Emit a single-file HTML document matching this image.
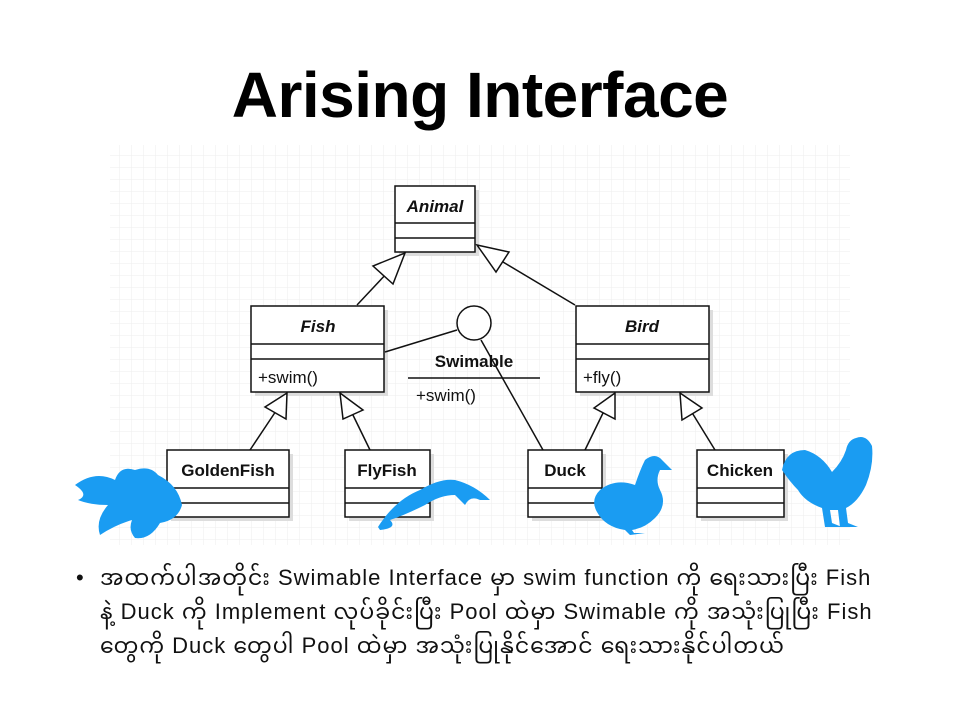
<!DOCTYPE html>
<html><head><meta charset="utf-8"><style>
body{margin:0;width:960px;height:720px;background:#fff;overflow:hidden;font-family:"Liberation Sans",sans-serif;position:relative}
.t{position:absolute;top:58px;left:0;width:960px;text-align:center;font-size:64px;font-weight:bold;color:#000;letter-spacing:-0.5px}
.p{position:absolute;left:76px;top:561px;width:880px;font-size:22px;letter-spacing:1px;line-height:34px;color:#111;white-space:nowrap;font-family:"Liberation Sans","Noto Sans Myanmar","Padauk",sans-serif}
.p b{position:absolute;left:0;font-weight:normal}
</style></head><body>
<div class="t">Arising Interface</div>
<svg width="960" height="720" style="position:absolute;left:0;top:0">
<defs><pattern id="g" width="12" height="12" patternUnits="userSpaceOnUse"><path d="M12 0V12H0" fill="none" stroke="#eeeeee" stroke-width="1"/></pattern></defs>
<rect x="110" y="145" width="740" height="400" fill="url(#g)"/>
<g fill="#ddd">
<rect x="399" y="190" width="80" height="66"/><rect x="255" y="310" width="133" height="86"/><rect x="580" y="310" width="133" height="86"/>
<rect x="171" y="454" width="122" height="67"/><rect x="349" y="454" width="85" height="67"/><rect x="532" y="454" width="74" height="67"/><rect x="701" y="454" width="87" height="67"/>
</g>
<g fill="#fff" stroke="#111" stroke-width="1.5">
<rect x="395" y="186" width="80" height="66"/><line x1="395" y1="223" x2="475" y2="223"/><line x1="395" y1="238" x2="475" y2="238"/>
<rect x="251" y="306" width="133" height="86"/><line x1="251" y1="344" x2="384" y2="344"/><line x1="251" y1="359" x2="384" y2="359"/>
<rect x="576" y="306" width="133" height="86"/><line x1="576" y1="344" x2="709" y2="344"/><line x1="576" y1="359" x2="709" y2="359"/>
<rect x="167" y="450" width="122" height="67"/><line x1="167" y1="488" x2="289" y2="488"/><line x1="167" y1="503" x2="289" y2="503"/>
<rect x="345" y="450" width="85" height="67"/><line x1="345" y1="488" x2="430" y2="488"/><line x1="345" y1="503" x2="430" y2="503"/>
<rect x="528" y="450" width="74" height="67"/><line x1="528" y1="488" x2="602" y2="488"/><line x1="528" y1="503" x2="602" y2="503"/>
<rect x="697" y="450" width="87" height="67"/><line x1="697" y1="488" x2="784" y2="488"/><line x1="697" y1="503" x2="784" y2="503"/>
</g>
<g stroke="#111" stroke-width="1.5" fill="#fff">
<line x1="357" y1="305" x2="388" y2="272"/><polygon points="405,253 393,284 373,266"/>
<line x1="575" y1="305" x2="503" y2="262"/><polygon points="477,245 509,252 496,272"/>
<line x1="250" y1="450" x2="276" y2="411"/><polygon points="287,393 286,419 265,407"/>
<line x1="370" y1="450" x2="351" y2="411"/><polygon points="340,393 363,410 343,419"/>
<line x1="585" y1="450" x2="604" y2="411"/><polygon points="615,393 615,419 594,408"/>
<line x1="715" y1="450" x2="691" y2="411"/><polygon points="680,393 702,408 682,420"/>
<line x1="385" y1="352" x2="457" y2="330"/>
<line x1="481" y1="340" x2="543" y2="450"/>
<circle cx="474" cy="323" r="17"/>
<line x1="408" y1="378" x2="540" y2="378"/>
</g>
<g font-family="Liberation Sans" fill="#111">
<text x="435" y="212" font-size="17" font-weight="bold" font-style="italic" text-anchor="middle">Animal</text>
<text x="318" y="332" font-size="17" font-weight="bold" font-style="italic" text-anchor="middle">Fish</text>
<text x="642" y="332" font-size="17" font-weight="bold" font-style="italic" text-anchor="middle">Bird</text>
<text x="258" y="383" font-size="17">+swim()</text>
<text x="583" y="383" font-size="17">+fly()</text>
<text x="474" y="367" font-size="17" font-weight="bold" text-anchor="middle">Swimable</text>
<text x="416" y="401" font-size="17">+swim()</text>
<text x="228" y="476" font-size="17" font-weight="bold" text-anchor="middle">GoldenFish</text>
<text x="387" y="476" font-size="17" font-weight="bold" text-anchor="middle">FlyFish</text>
<text x="565" y="476" font-size="17" font-weight="bold" text-anchor="middle">Duck</text>
<text x="740" y="476" font-size="17" font-weight="bold" text-anchor="middle">Chicken</text>
</g>
<g fill="#1a9cf2">
<path d="M75,485 Q95,470 115,480 Q120,465 135,470 Q150,465 158,475 Q178,485 182,505 Q178,520 160,523 Q150,540 135,538 Q128,530 132,520 Q115,525 100,535 Q95,520 108,505 Q90,505 78,500 Q90,495 75,485Z"/>
<path d="M378,527 Q395,500 420,490 Q440,478 455,480 Q475,485 490,500 L480,500 Q470,495 465,505 L455,495 Q440,495 425,505 Q405,515 390,520 Q398,528 380,530Z"/>
<path d="M600,490 Q615,478 635,485 Q640,470 645,460 Q655,452 662,460 L672,470 L660,470 Q655,480 660,490 Q668,505 655,518 Q645,528 632,530 L634,533 L645,533 L630,535 L625,530 Q605,527 597,512 Q590,500 600,490Z"/>
<path d="M782,470 Q786,450 805,450 Q822,455 832,472 Q842,462 846,450 Q848,440 856,438 Q866,434 872,446 Q874,465 866,485 Q858,502 846,508 L848,523 L858,527 L840,527 L838,510 L830,510 L832,523 L842,527 L825,527 L822,508 Q805,502 798,490 Q790,482 782,470Z"/>
</g>
</svg>
<div class="p"><b>•</b><div style="margin-left:24px">အထက်ပါအတိုင်း Swimable Interface မှာ swim function ကို ရေးသားပြီး Fish<br>နဲ့ Duck ကို Implement လုပ်ခိုင်းပြီး Pool ထဲမှာ Swimable ကို အသုံးပြုပြီး Fish<br>တွေကို Duck တွေပါ Pool ထဲမှာ အသုံးပြုနိုင်အောင် ရေးသားနိုင်ပါတယ်</div></div>
</body></html>
